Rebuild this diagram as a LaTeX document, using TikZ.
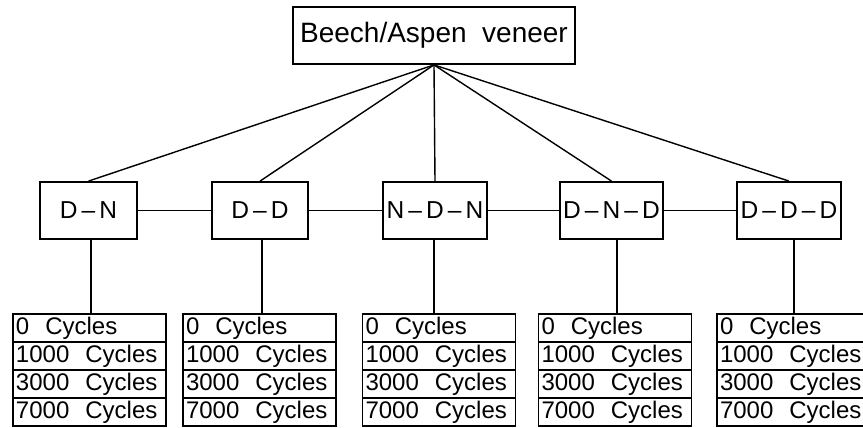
\documentclass[tikz,border=0pt]{standalone}
\usepackage{fontspec}
\setmainfont{Liberation Sans}
\begin{document}
\begin{tikzpicture}[x=1pt,y=-1pt,
  box/.style={draw,line width=1.8pt,inner sep=0pt,minimum height=57pt},
  cell/.style={draw,line width=1.6pt,inner sep=0pt,minimum width=153pt,minimum height=28pt,
    text width=147pt,align=left,font=\fontsize{24}{24}\selectfont},
  conn/.style={line width=1.4pt},
  vconn/.style={line width=2pt},
  hconn/.style={line width=1.1pt}]
\useasboundingbox (0,0) rectangle (863,428);
\begin{scope}
\clip (0,0) rectangle (863,428);
\node[box,minimum width=282pt,font=\fontsize{28}{28}\selectfont] (top) at (434,35.5) {Beech/Aspen\ \ veneer};
\foreach \n/\x/\w/\t in {dn/88.5/97/D\,--\,N, dd/260/96/D\,--\,D, ndn/435/104/N\,--\,D\,--\,N, dnd/611.5/103/D\,--\,N\,--\,D, ddd/789/104/D\,--\,D\,--\,D}{
  \node[box,minimum width=\w pt,font=\fontsize{24.5}{24.5}\selectfont] (\n) at (\x,210.5) {\t};
}
\foreach \n/\x/\vx in {dn/89.5/91, dd/259.5/262, ndn/439/434, dnd/615/617, ddd/793.5/794}{
  \node[cell] (\n0) at (\x,328) {0\ \ Cycles};
  \node[cell] (\n1) at (\x,356) {1000\ \ Cycles};
  \node[cell] (\n3) at (\x,384) {3000\ \ Cycles};
  \node[cell] (\n7) at (\x,412) {7000\ \ Cycles};
  \coordinate (v\n) at (\vx,0);
  \draw[vconn] (\n.south -| v\n) -- (\n0.north -| v\n);
  \draw[conn] (top.south) -- (\n.north);
}
\draw[hconn] (dn) -- (dd);
\draw[hconn] (dd) -- (ndn);
\draw[hconn] (ndn) -- (dnd);
\draw[hconn] (dnd) -- (ddd);
\end{scope}
\end{tikzpicture}
\end{document}
